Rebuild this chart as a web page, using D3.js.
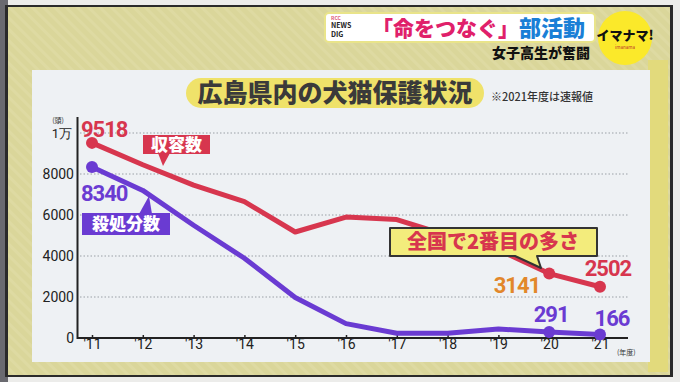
<!DOCTYPE html>
<html><head><meta charset="utf-8">
<script src="https://cdn.jsdelivr.net/npm/d3@7"></script>
<style>
html,body{margin:0;padding:0;background:#e8e8e6;}
svg{display:block;}
text{font-family:"Noto Sans CJK JP","Noto Sans",sans-serif;}
.num{font-family:Roboto,"Noto Sans",sans-serif;}
</style></head>
<body>
<svg id="c" width="680" height="382"></svg>
<script>
// ---- data ----
const years = [2011,2012,2013,2014,2015,2016,2017,2018,2019,2020,2021];
const yearLabels = ["'11","'12","'13","'14","'15","'16","'17","'18","'19","'20","'21"];
const shuyo = [9518,8450,7460,6650,5170,5900,5780,5000,4300,3141,2502];   // 収容数
const satsu = [8340,7200,5500,3890,1980,700,230,230,440,291,166];         // 殺処分数
const yTicks = [0,2000,4000,6000,8000,10000];
const yTickLabels = ["0","2000","4000","6000","8000","1万"];
const markedYears = [2011,2020,2021];

const RED="#d7364e", PURPLE="#6a3bd2", ORANGE="#e2872a";
const svg = d3.select("#c");
const defs = svg.append("defs");
const pat = defs.append("pattern").attr("id","stripe").attr("width",8).attr("height",8)
  .attr("patternUnits","userSpaceOnUse").attr("patternTransform","rotate(-45)");
pat.append("rect").attr("width",8).attr("height",8).attr("fill","#dad69a");
pat.append("rect").attr("width",3).attr("height",8).attr("fill","#dedaa2");

// frame
svg.append("rect").attr("x",0).attr("y",0).attr("width",680).attr("height",382).attr("fill","#ececea");
svg.append("rect").attr("x",0).attr("y",0).attr("width",8).attr("height",382).attr("fill","#6a6a70");
svg.append("rect").attr("x",5).attr("y",5).attr("width",668).attr("height",372).attr("fill","#2a2a2a");
svg.append("rect").attr("x",8).attr("y",7).attr("width",662).attr("height",368).attr("fill","url(#stripe)");
svg.append("rect").attr("x",648).attr("y",60).attr("width",20).attr("height",312).attr("fill","#e2da7c");
// panel
svg.append("rect").attr("x",32).attr("y",70).attr("width",618).attr("height",292).attr("fill","#eef1f4");

// header
svg.append("rect").attr("x",325).attr("y",13).attr("width",270).attr("height",29).attr("rx",4).attr("fill","#ffffff")
  .attr("stroke","#e9e48a").attr("stroke-width",2);
svg.append("text").attr("x",331).attr("y",19.5).attr("font-family","Roboto,sans-serif").attr("font-weight",700)
  .attr("font-size",5).attr("fill","#e05a7a").text("RCC");
svg.append("text").attr("x",331).attr("y",28).attr("font-family","Roboto,sans-serif").attr("font-weight",700)
  .attr("font-size",7).attr("fill","#222").text("NEWS");
svg.append("text").attr("x",331).attr("y",37).attr("font-family","Roboto,sans-serif").attr("font-weight",700)
  .attr("font-size",7).attr("fill","#222").text("DIG");
const head = svg.append("text").attr("x",372).attr("y",36).attr("font-weight",900);
head.append("tspan").attr("font-size",21).attr("fill","#e0206a").text("「命をつなぐ」");
head.append("tspan").attr("font-size",22).attr("fill","#1a7fd6").text("部活動");
svg.append("text").attr("x",590).attr("y",58).attr("text-anchor","end").attr("font-size",14).attr("font-weight",900).attr("fill","#111").text("女子高生が奮闘");
svg.append("circle").attr("cx",625).attr("cy",38).attr("r",27).attr("fill","#fbe92a");
const ima = svg.append("text").attr("x",625).attr("y",40).attr("text-anchor","middle");
ima.append("tspan").attr("x",625).attr("font-size",13).attr("font-weight",900).attr("fill","#111").text("イマナマ!");
ima.append("tspan").attr("x",625).attr("dy",9).attr("font-size",4.5).attr("fill","#c0392b").text("imanama");

// title pill
svg.append("rect").attr("x",186).attr("y",78).attr("width",298).attr("height",30).attr("rx",15).attr("fill","#efe26a");
svg.append("text").attr("x",335).attr("y",102).attr("text-anchor","middle").attr("font-size",25).attr("font-weight",900)
  .attr("fill","#3a3a3a").text("広島県内の犬猫保護状況");
svg.append("text").attr("x",491).attr("y",101).attr("font-size",11).attr("font-weight",500).attr("fill","#333").text("※2021年度は速報値");

// scales
const x = d3.scaleLinear().domain([2011,2021]).range([92,600]);
const y = d3.scaleLinear().domain([0,10000]).range([338,133]);

// grid
svg.append("g").selectAll("line").data(yTicks.filter(d=>d>0)).join("line")
  .attr("x1",80).attr("x2",628).attr("y1",d=>y(d)).attr("y2",d=>y(d))
  .attr("stroke","#9aa0a6").attr("stroke-width",1).attr("stroke-dasharray","1.5,2");

// y axis labels
svg.append("g").selectAll("text").data(yTicks).join("text").attr("class","num")
  .attr("x",d=>d===10000?72:74).attr("y",d=>y(d)+5).attr("text-anchor","end")
  .attr("font-size",d=>d===10000?13:14).attr("fill","#222")
  .text((d,i)=>yTickLabels[i]);
svg.append("text").attr("x",58).attr("y",123).attr("text-anchor","middle").attr("font-size",7).attr("fill","#333").text("(頭)");

// axes lines
svg.append("line").attr("x1",77.5).attr("x2",77.5).attr("y1",117).attr("y2",339).attr("stroke","#222").attr("stroke-width",2);
const xAxis = d3.axisBottom(x).tickValues(years).tickSize(-3).tickFormat((d,i)=>yearLabels[i]);
const gx = svg.append("g").attr("transform","translate(0,338)").call(xAxis);
gx.select(".domain").remove();
gx.selectAll(".tick line").attr("stroke","#222").attr("stroke-width",1.5);
gx.selectAll(".tick text").attr("class","num").attr("font-size",14).attr("fill","#222").attr("dy","0.55em")
  .attr("font-family","Roboto,sans-serif");
svg.append("line").attr("x1",77).attr("x2",628).attr("y1",338).attr("y2",338).attr("stroke","#222").attr("stroke-width",2);
svg.append("text").attr("x",617).attr("y",355).attr("font-size",7).attr("fill","#333").text("(年度)");

// lines
const line = d3.line().x((d,i)=>x(years[i])).y(d=>y(d));
svg.append("path").datum(shuyo).attr("d",line).attr("fill","none").attr("stroke",RED).attr("stroke-width",5).attr("stroke-linejoin","round");
svg.append("path").datum(satsu).attr("d",line).attr("fill","none").attr("stroke",PURPLE).attr("stroke-width",5).attr("stroke-linejoin","round");
[[shuyo,RED],[satsu,PURPLE]].forEach(([s,c])=>{
  svg.append("g").selectAll("circle").data(markedYears).join("circle")
    .attr("cx",d=>x(d)).attr("cy",d=>y(s[years.indexOf(d)])).attr("r",6).attr("fill",c);
});

// value labels
function val(txt,xx,yy,color,anchor){
  svg.append("text").attr("class","num").attr("x",xx).attr("y",yy).attr("text-anchor",anchor||"start")
    .attr("font-size",22).attr("font-weight",700).attr("letter-spacing","-1").attr("fill",color).text(txt);
}
const iy = yr=>years.indexOf(yr);
val(shuyo[0], x(2011)-11, y(shuyo[0])-6, RED);
val(satsu[0], x(2011)-11, y(satsu[0])+34, PURPLE);
val(shuyo[iy(2020)], x(2020)-9, y(shuyo[iy(2020)])+19, ORANGE, "end");
val(shuyo[iy(2021)], x(2021)+8, y(shuyo[iy(2021)])-11, RED, "middle");
val(satsu[iy(2020)], x(2020)+2, y(satsu[iy(2020)])-10, PURPLE, "middle");
val(satsu[iy(2021)], x(2021)+12, y(satsu[iy(2021)])-9, PURPLE, "middle");

// series label boxes
function tagBox(x0,y0,w,h,tail,color,txt,fs){
  svg.append("path").attr("d",tail).attr("fill",color);
  svg.append("rect").attr("x",x0).attr("y",y0).attr("width",w).attr("height",h).attr("fill",color);
  svg.append("text").attr("x",x0+w/2).attr("y",y0+h/2+fs*0.36).attr("text-anchor","middle")
    .attr("font-size",fs).attr("font-weight",900).attr("fill","#fff").text(txt);
}
tagBox(143,135,67,19,"M158,153 L170,153 L163,166 Z",RED,"収容数",17);
tagBox(82,213,88,22,"M139,214 L152,214 L149,196 Z",PURPLE,"殺処分数",17);

// callout
svg.append("path").attr("d","M390,228 H597 V256 H537 L541,268 L515,256 H390 Z")
  .attr("fill","#f3ec7c").attr("stroke","#333").attr("stroke-width",2).attr("stroke-linejoin","round");
svg.append("text").attr("x",493).attr("y",249).attr("text-anchor","middle").attr("font-size",20).attr("font-weight",900)
  .attr("fill",RED).text("全国で2番目の多さ");
</script>
</body></html>
